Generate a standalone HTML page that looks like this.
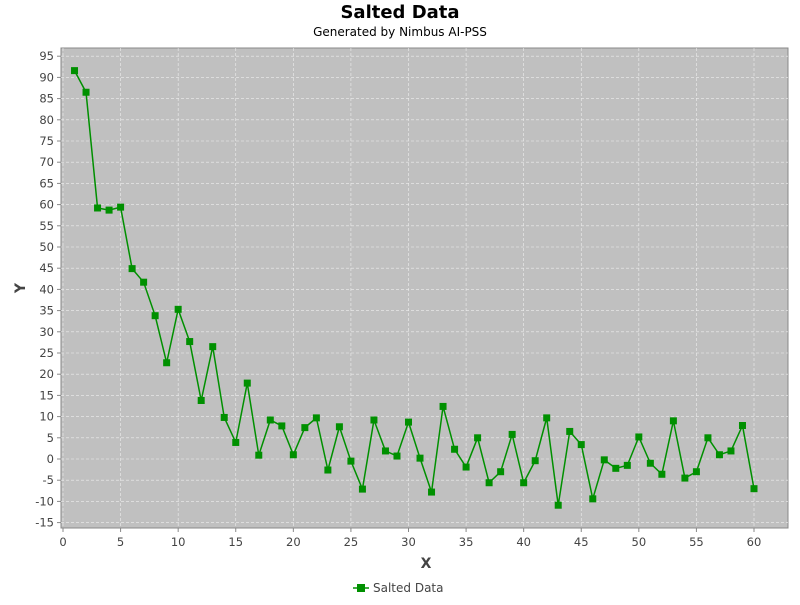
<!DOCTYPE html>
<html><head><meta charset="utf-8"><style>
body{margin:0;background:#fff;font-family:"Liberation Sans","DejaVu Sans",sans-serif}
</style></head><body>
<svg id="c" width="800" height="600" xmlns="http://www.w3.org/2000/svg" font-family="'DejaVu Sans','Liberation Sans',sans-serif">
<text x="400" y="18" text-anchor="middle" font-size="18" font-weight="bold">Salted Data</text>
<text x="400" y="36" text-anchor="middle" font-size="12">Generated by Nimbus AI-PSS</text>
<rect x="61" y="48" width="727" height="480" fill="#c0c0c0" stroke="#888"/>
<g id="grid"></g><g id="axes"></g><g id="series"></g>
<text x="426" y="568" text-anchor="middle" font-size="14" font-weight="bold" fill="#444">X</text>
<text x="25" y="288" text-anchor="middle" font-size="14" font-weight="bold" fill="#444" transform="rotate(-90 25 288)">Y</text>
<g>
<line x1="353" y1="588" x2="369" y2="588" stroke="#009000" stroke-width="1.5"/>
<rect x="357" y="584" width="8" height="8" fill="#009000"/>
<text x="373" y="592" font-size="12" fill="#444">Salted Data</text>
</g>
</svg>
<script>
const yValues=[91.6,86.5,59.2,58.7,59.4,44.9,41.7,33.8,22.7,35.3,27.7,13.8,26.5,9.8,3.9,17.9,0.9,9.2,7.8,1.0,7.4,9.7,-2.6,7.6,-0.5,-7.1,9.2,1.9,0.7,8.7,0.2,-7.8,12.4,2.3,-1.9,5.0,-5.6,-3.0,5.8,-5.6,-0.4,9.7,-10.9,6.5,3.4,-9.4,-0.2,-2.2,-1.5,5.2,-1.0,-3.6,9.0,-4.5,-3.0,5.0,1.0,1.9,7.9,-7.0];
const xTicks=[0,5,10,15,20,25,30,35,40,45,50,55,60];
const yTicks=[-15,-10,-5,0,5,10,15,20,25,30,35,40,45,50,55,60,65,70,75,80,85,90,95];
const NS="http://www.w3.org/2000/svg";
const sx=v=>63+v*(754-63)/60;
const sy=v=>459-v*4.24;
function mk(t,a,p){const e=document.createElementNS(NS,t);for(const k in a)e.setAttribute(k,a[k]);p.appendChild(e);return e;}
const grid=document.getElementById('grid'),axes=document.getElementById('axes'),ser=document.getElementById('series');
xTicks.forEach(t=>{
 const g=mk('line',{x1:sx(t),x2:sx(t),y1:48,y2:528,stroke:'#eee','stroke-width':0.6,'stroke-dasharray':'3,2'},grid);
 
 
 mk('line',{x1:sx(t),x2:sx(t),y1:528,y2:532,stroke:'#888'},axes);
 const l=mk('text',{x:sx(t),y:546,'text-anchor':'middle','font-size':11.5,fill:'#444'},axes);l.textContent=t;
 
 
});
yTicks.forEach(t=>{
 const g=mk('line',{x1:61,x2:788,y1:sy(t),y2:sy(t),stroke:'#eee','stroke-width':0.6,'stroke-dasharray':'3,2'},grid);
 
 
 mk('line',{x1:57,x2:61,y1:sy(t),y2:sy(t),stroke:'#888'},axes);
 const l=mk('text',{x:54,y:sy(t)+4,'text-anchor':'end','font-size':11.5,fill:'#444'},axes);l.textContent=t;
 
 
});
const pts=yValues.map((v,i)=>sx(i+1)+','+sy(v)).join(' ');
const pl=mk('polyline',{points:pts,fill:'none',stroke:'#009000','stroke-width':1.5},ser);


yValues.forEach((v,i)=>{
 const r=mk('rect',{x:sx(i+1)-3.5,y:sy(v)-3.5,width:7,height:7,fill:'#009000'},ser);
 
 
});
</script>
</body></html>
